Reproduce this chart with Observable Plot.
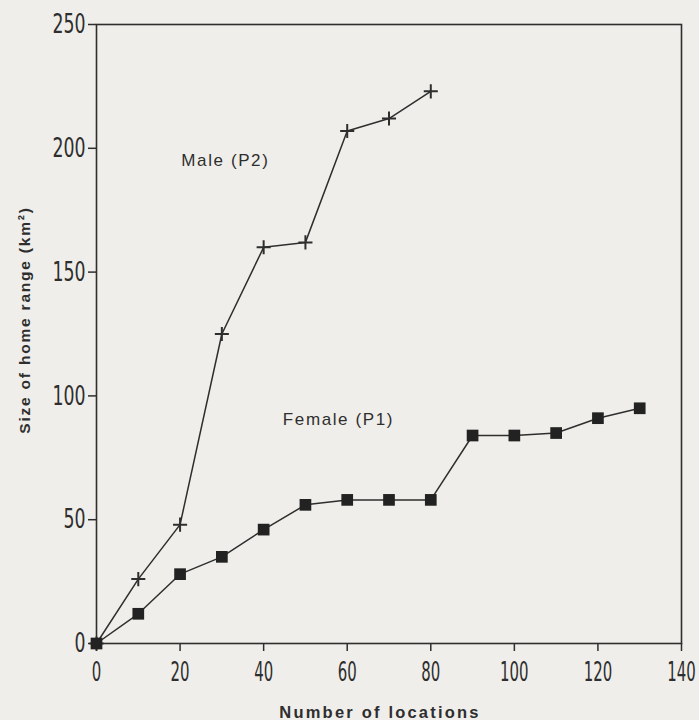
<!DOCTYPE html>
<html>
<head>
<meta charset="utf-8">
<script src="https://cdn.jsdelivr.net/npm/d3@7"></script>
<script src="https://cdn.jsdelivr.net/npm/@observablehq/plot@0.6"></script>
<style>
  html, body { margin: 0; padding: 0; background: #f0eeea; }
  #chart text { fill: #2e2e2e; }
</style>
</head>
<body>
<div id="chart"></div>
<script>
// Data
const locations = [0, 10, 20, 30, 40, 50, 60, 70, 80, 90, 100, 110, 120, 130];
const maleP2 = [0, 26, 48, 125, 160, 162, 207, 212, 223];
const femaleP1 = [0, 12, 28, 35, 46, 56, 58, 58, 58, 84, 84, 85, 91, 95];
const xTicks = [0, 20, 40, 60, 80, 100, 120, 140];
const yTicks = [0, 50, 100, 150, 200, 250];
const seriesLabels = [
  {text: "Male (P2)", x: 20.3, y: 195},
  {text: "Female (P1)", x: 44.6, y: 90.5}
];
const xTitle = "Number of locations";
const yTitle = "Size of home range (km²)";

const male = maleP2.map((v, i) => ({x: locations[i], y: v}));
const female = femaleP1.map((v, i) => ({x: locations[i], y: v}));

const ink = "#2e2e2e";

const chart = Plot.plot({
  width: 699,
  height: 720,
  marginLeft: 96,
  marginRight: 18,
  marginTop: 24,
  marginBottom: 77,
  style: {background: "#f0eeea", color: ink, fontFamily: "'Liberation Sans', Arial, sans-serif"},
  x: {domain: [0, 140], ticks: xTicks},
  y: {domain: [0, 250], ticks: yTicks},
  marks: [
    Plot.frame({stroke: ink, strokeWidth: 1.6}),
    Plot.axisX({ticks: xTicks, tickSize: 8, tickPadding: 10, tickFormat: d => String(d), label: null,
      fontSize: 27, fontFamily: "DejaVu Sans", stroke: ink, strokeWidth: 1.5}),
    Plot.axisY({ticks: yTicks, tickSize: 8, tickPadding: 3, tickFormat: d => String(d), label: null,
      fontSize: 27, fontFamily: "DejaVu Sans", stroke: ink, strokeWidth: 1.5}),
    Plot.line(male, {x: "x", y: "y", stroke: ink, strokeWidth: 1.5}),
    Plot.line(female, {x: "x", y: "y", stroke: ink, strokeWidth: 1.5}),
    Plot.dot(male, {x: "x", y: "y", symbol: "plus", r: 4.6, stroke: ink, strokeWidth: 2}),
    Plot.dot(female, {x: "x", y: "y", symbol: "square", r: 6.6, fill: "#222", stroke: "none"}),
    Plot.text(seriesLabels, {x: "x", y: "y", text: "text", textAnchor: "start", lineAnchor: "middle",
      fontSize: 17, fill: ink}),
    Plot.text([xTitle], {text: d => d, frameAnchor: "bottom", dy: 69, dx: -9, fontSize: 16.5, fontWeight: "bold",
      fill: ink, textAnchor: "middle", lineAnchor: "middle"}),
    Plot.text([yTitle], {text: d => d, frameAnchor: "left", dx: -71, dy: -14, rotate: -90, fontSize: 15.5,
      fontWeight: "bold", fill: ink, textAnchor: "middle", lineAnchor: "middle"})
  ]
});
// letter spacing for the labels
chart.querySelectorAll("text").forEach(t => {
  const s = t.textContent;
  if (s === xTitle) t.style.letterSpacing = "2.2px";
  if (s === yTitle) t.style.letterSpacing = "1.8px";
  if (seriesLabels.some(l => l.text === s)) t.style.letterSpacing = "1.6px";
});
// condensed tick numerals like the original
chart.querySelectorAll('g[aria-label="x-axis tick label"] text').forEach(t => {
  t.setAttribute("textLength", t.textContent.length * 9.5);
  t.setAttribute("lengthAdjust", "spacingAndGlyphs");
});
chart.querySelectorAll('g[aria-label="y-axis tick label"] text').forEach(t => {
  t.setAttribute("textLength", t.textContent.length * 11);
  t.setAttribute("lengthAdjust", "spacingAndGlyphs");
});
document.getElementById("chart").appendChild(chart);
</script>
</body>
</html>
